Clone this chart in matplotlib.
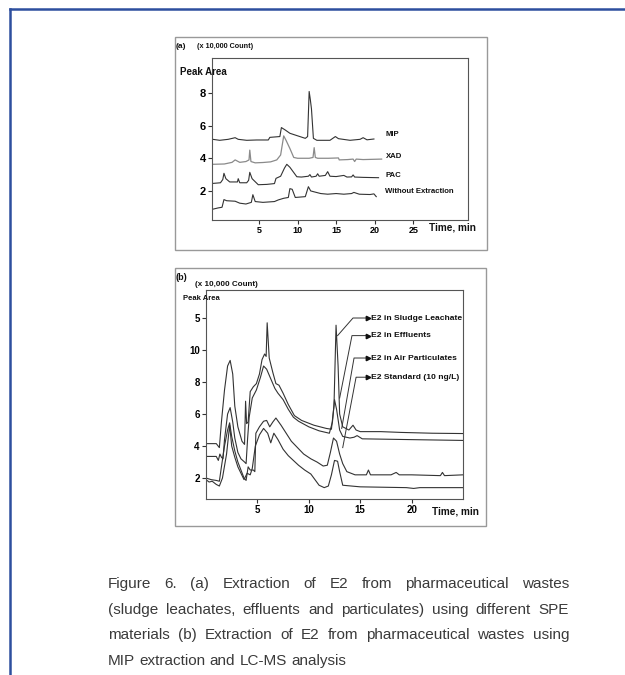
import numpy as np
import matplotlib.pyplot as plt
from matplotlib.patches import Rectangle
from matplotlib.lines import Line2D

W, H = 625, 675

# ---- panel (a): chromatograms with different SPE materials ----
mip_t = [-1.0, -0.1, 1.0, 1.9, 2.3, 3.4, 4.7, 6.2, 6.4, 7.7, 7.9, 8.4, 9.0, 9.9, 11.0,
         11.3, 11.5, 11.65, 11.8, 12.05, 12.5, 14.2, 14.9, 15.3, 16.8, 18.1, 18.5, 19.0, 19.9]
mip_y = [5.16, 5.10, 5.16, 5.26, 5.16, 5.10, 5.12, 5.12, 5.28, 5.33, 5.88, 5.73, 5.53, 5.39, 5.22,
         5.33, 8.09, 7.6, 7.02, 5.22, 5.10, 5.10, 5.33, 5.2, 5.10, 5.16, 5.26, 5.13, 5.18]

xad_t = [-1.0, 0.5, 1.5, 1.9, 2.5, 3.3, 3.7, 3.8, 3.95, 4.5, 5.5, 6.5, 7.3, 7.8, 8.2, 8.5, 9.0,
         9.5, 10.0, 11.5, 12.0, 12.15, 12.3, 12.6, 14.0, 15.3, 15.4, 16.5, 17.2, 17.4, 17.6, 18.5, 20.9]
xad_y = [3.63, 3.65, 3.75, 3.9, 3.75, 3.8, 3.9, 4.5, 3.8, 3.72, 3.74, 3.78, 3.9, 4.2, 5.37, 5.1, 4.6,
         4.05, 4.0, 4.0, 4.05, 4.65, 4.05, 4.0, 4.0, 4.02, 3.9, 3.92, 3.95, 3.8, 3.95, 3.92, 3.95]

pac_t = [-1.0, 0.0, 0.3, 0.45, 0.7, 1.2, 2.2, 2.3, 2.5, 3.4, 3.65, 3.8, 4.1, 4.9, 6.0, 7.0, 7.2,
         7.8, 8.3, 8.6, 9.0, 9.9, 10.5, 11.4, 11.6, 11.8, 12.4, 12.6, 12.8, 13.6, 13.9, 14.2,
         15.0, 16.0, 16.4, 17.0, 17.2, 17.4, 18.5, 20.5]
pac_y = [2.46, 2.5, 2.7, 3.08, 2.75, 2.55, 2.55, 2.75, 2.5, 2.5, 2.65, 3.14, 2.75, 2.38, 2.4, 2.45, 2.77,
         2.9, 3.4, 3.63, 3.45, 2.87, 2.85, 2.9, 3.0, 2.85, 2.9, 3.05, 2.9, 2.95, 3.18, 2.9,
         2.88, 2.95, 2.85, 2.86, 2.98, 2.85, 2.83, 2.81]

wo_t = [-1.1, -0.3, 0.2, 0.45, 0.8, 1.9, 2.5, 3.3, 4.0, 4.2, 4.5, 5.5, 7.0, 7.5, 8.2, 8.8, 9.0,
        9.3, 9.7, 11.0, 11.4, 11.7, 12.1, 13.0, 13.9, 15.0, 16.0, 17.0, 17.3, 18.0, 19.4, 19.9, 20.2]
wo_y = [0.87, 0.96, 1.0, 1.47, 1.4, 1.37, 1.25, 1.2, 1.3, 1.77, 1.35, 1.3, 1.35, 1.45, 1.55, 1.6, 2.14,
        2.1, 1.6, 1.65, 2.26, 2.0, 1.95, 1.84, 1.8, 1.84, 1.8, 1.84, 1.91, 1.8, 1.78, 1.82, 1.65]

a_names = ["MIP", "XAD", "PAC", "Without Extraction"]
a_label_y = [5.47, 4.12, 2.96, 1.98]

# ---- panel (b): E2 by MIP extraction and LC-MS ----
sl_t = [0, 1.0, 1.3, 1.5, 1.8, 2.1, 2.35, 2.6, 2.8, 3.1, 3.5, 3.75, 3.85, 3.95, 4.1, 4.3, 4.6, 4.9,
        5.2, 5.45, 5.7, 5.85, 5.95, 6.15, 6.5, 6.8, 7.1, 7.5, 8.0, 8.6, 9.3, 10.5, 11.7, 12.2, 12.45,
        12.65, 12.85, 13.0, 13.3, 13.9, 14.3, 14.6, 15.0, 17.0, 19.0, 22.0, 25.0]
sl_y = [4.15, 4.15, 3.9, 5.5, 7.5, 9.0, 9.35, 8.5, 6.5, 5.2, 4.3, 4.1, 6.8, 5.4, 5.5, 7.4, 7.7, 7.9,
        8.5, 9.4, 9.75, 9.6, 11.7, 9.5, 8.6, 7.9, 7.8, 7.3, 6.6, 5.9, 5.6, 5.3, 5.1, 5.05, 6.5,
        11.55, 9.0, 6.0, 5.2, 5.0, 5.3, 5.0, 4.9, 4.9, 4.85, 4.8, 4.78]

ef_t = [0, 1.0, 1.2, 1.35, 1.5, 1.65, 1.8, 2.1, 2.35, 2.6, 2.8, 3.1, 3.4, 3.75, 3.9, 4.05, 4.2, 4.5,
        4.9, 5.3, 5.6, 5.9, 6.3, 6.7, 7.0, 7.5, 8.0, 8.5, 9.0, 10.0, 11.0, 12.0, 12.3, 12.5, 12.7,
        13.0, 13.3, 14.0, 14.4, 14.7, 15.2, 20.0, 25.0]
ef_y = [3.35, 3.35, 3.1, 3.5, 3.3, 3.2, 4.4, 6.0, 6.4, 5.5, 4.5, 3.6, 3.2, 3.0, 2.9, 4.5, 5.8, 7.0,
        7.5, 8.3, 9.0, 8.8, 8.2, 7.6, 7.3, 6.9, 6.3, 5.8, 5.55, 5.2, 4.95, 4.8, 5.5, 6.9, 6.3,
        5.0, 4.6, 4.5, 4.55, 4.65, 4.45, 4.4, 4.35]

ap_t = [0, 0.5, 1.0, 1.3, 1.5, 1.8, 2.1, 2.3, 2.5, 2.8, 3.1, 3.4, 3.7, 3.9, 4.1, 4.3, 4.6, 4.75,
        4.85, 5.2, 5.6, 5.9, 6.2, 6.5, 6.8, 7.3, 7.8, 8.3, 8.9, 9.5, 10.2, 10.8, 11.4, 11.8, 12.1,
        12.4, 12.7, 13.0, 13.3, 13.7, 14.5, 15.6, 15.8, 16.0, 18.0, 18.5, 18.8, 20.0, 22.8, 23.0,
        23.2, 25.0]
ap_y = [2.0, 1.9, 1.85, 1.8, 2.7, 4.0, 5.0, 5.45, 4.6, 3.7, 3.0, 2.5, 2.0, 1.85, 2.7, 2.5, 2.5, 2.4,
        4.8, 5.2, 5.55, 5.6, 5.2, 5.5, 5.75, 5.3, 4.8, 4.3, 3.9, 3.5, 3.2, 3.0, 2.75, 2.8, 3.6,
        4.5, 4.3, 3.5, 2.9, 2.4, 2.2, 2.2, 2.5, 2.2, 2.2, 2.35, 2.2, 2.2, 2.15, 2.35,
        2.15, 2.2]

st_t = [0, 0.3, 0.6, 1.0, 1.3, 1.6, 2.0, 2.3, 2.5, 2.8, 3.1, 3.4, 3.7, 4.0, 4.3, 4.5, 4.8, 5.2,
        5.6, 6.0, 6.3, 6.6, 7.0, 7.5, 8.0, 8.5, 9.0, 9.6, 10.2, 10.6, 11.0, 11.5, 11.9, 12.2, 12.5,
        12.8, 13.0, 13.3, 15.0, 19.5, 20.2, 20.8, 25.0]
st_y = [1.9, 1.75, 1.8, 1.6, 1.5, 2.0, 3.5, 5.3, 4.0, 3.3, 2.7, 2.3, 1.9, 2.3, 2.2, 2.6, 4.0, 4.7,
        5.1, 4.8, 4.2, 4.8, 4.4, 3.8, 3.4, 3.1, 2.8, 2.5, 2.25, 1.9, 1.55, 1.4, 1.5, 2.2, 3.1,
        3.05, 2.4, 1.55, 1.45, 1.4, 1.35, 1.4, 1.4]

b_names = ["E2 in Sludge Leachate", "E2 in Effluents", "E2 in Air Particulates",
           "E2 Standard (10 ng/L)"]
b_label_y = [12.0, 10.9, 9.5, 8.3]
b_corner_x = [14.3, 14.2, 14.4, 14.6]
b_end = [(12.8, 10.9), (13.0, 7.0), (13.2, 5.1), (13.3, 3.9)]

b_yticks = [2, 4, 6, 8, 10, 12]
b_yticklabels = ["2", "4", "6", "8", "10", "5"]

caption = ["Figure 6. (a) Extraction of E2 from pharmaceutical wastes",
           "(sludge leachates, effluents and particulates) using different SPE",
           "materials (b) Extraction of E2 from pharmaceutical wastes using",
           "MIP extraction and LC-MS analysis"]

plt.rcParams['font.family'] = ['Liberation Sans', 'DejaVu Sans']

fig = plt.figure(figsize=(W / 100, H / 100), dpi=100)


def fx(px):
    return px / W


def fy(py):
    return 1 - py / H


def ftext(px, py, s, size, **kw):
    kw.setdefault('ha', 'left')
    kw.setdefault('va', 'center')
    return fig.text(fx(px), fy(py), s, fontsize=size, fontweight='bold', color='#111', **kw)


def box(x0, y0, x1, y1, color='#999', lw=1.0):
    fig.add_artist(Rectangle((fx(x0), fy(y1)), fx(x1) - fx(x0), fy(y0) - fy(y1),
                             transform=fig.transFigure, fill=False, ec=color, lw=lw))


# blue page frame
fig.add_artist(Line2D([fx(10), fx(625)], [fy(9), fy(9)], color='#2d4f9e', lw=1.8))
fig.add_artist(Line2D([fx(10), fx(10)], [fy(9), fy(675)], color='#2d4f9e', lw=1.8))

# panel boxes
box(175, 37, 487, 250)
box(175, 268, 486, 526)


def style(ax):
    for s in ax.spines.values():
        s.set_color('#555')
        s.set_linewidth(0.8)
    ax.tick_params(direction='out', length=3, width=0.8, color='#333', pad=1.5)
    for lab in ax.get_xticklabels() + ax.get_yticklabels():
        lab.set_fontweight('bold')


# ---- (a) ----
ax1 = fig.add_axes([fx(212), fy(220), fx(468) - fx(212), fy(58) - fy(220)])
ax1.plot(mip_t, mip_y, color='#333', lw=0.8)
ax1.plot(xad_t, xad_y, color='#8a8a8a', lw=0.9)
ax1.plot(pac_t, pac_y, color='#333', lw=0.8)
ax1.plot(wo_t, wo_y, color='#333', lw=0.8)
for name, yy in zip(a_names, a_label_y):
    ax1.text(21.4, yy, name, fontsize=5.6, fontweight='bold', color='#111', va='center')
ax1.set_xlim(-1.1, 32.1)
ax1.set_ylim(0.22, 10.14)
ax1.set_xticks([5, 10, 15, 20, 25])
ax1.set_yticks([2, 4, 6, 8])
ax1.tick_params(axis='x', labelsize=6.5)
ax1.tick_params(axis='y', labelsize=8)
style(ax1)

ftext(176, 46, "(a)", 6)
ftext(197, 47, "(x 10,000 Count)", 5.2)
ftext(180, 72, "Peak Area", 7)
ftext(429, 228, "Time, min", 7.2)

# ---- (b) ----
ax2 = fig.add_axes([fx(206), fy(499), fx(463) - fx(206), fy(290) - fy(499)])
for t, y in [(sl_t, sl_y), (ef_t, ef_y), (ap_t, ap_y), (st_t, st_y)]:
    ax2.plot(t, y, color='#333', lw=0.8)
for name, ly, cx, (ex, ey) in zip(b_names, b_label_y, b_corner_x, b_end):
    ax2.plot([ex, cx, 15.8], [ey, ly, ly], color='#333', lw=0.7)
    ax2.plot([15.8], [ly], marker='>', ms=3.2, color='#111', mec='#111')
    ax2.text(16.05, ly, name, fontsize=6.1, fontweight='bold', color='#111', va='center')
ax2.set_xlim(0, 25)
ax2.set_ylim(0.69, 13.75)
ax2.set_xticks([5, 10, 15, 20])
ax2.set_yticks(b_yticks)
ax2.set_yticklabels(b_yticklabels)
ax2.tick_params(axis='both', labelsize=7)
style(ax2)

ftext(176, 277, "(b)", 6.5)
ftext(195, 284, "(x 10,000 Count)", 5.8)
ftext(183, 298, "Peak Area", 5.5)
ftext(432, 511, "Time, min", 7.2)

# ---- caption, justified ----
renderer = fig.canvas.get_renderer()
left, right = 108, 569
baselines = [588, 614, 639, 665]
for i, (line, by) in enumerate(zip(caption, baselines)):
    words = line.split()
    texts = [fig.text(0, fy(by), w, fontsize=11, color='#3a3a3a', va='baseline') for w in words]
    widths = [t.get_window_extent(renderer=renderer).width for t in texts]
    if i < len(caption) - 1:
        gap = (right - left - sum(widths)) / (len(words) - 1)
    else:
        gap = 4.2
    x = left
    for t, w in zip(texts, widths):
        t.set_x(fx(x))
        x += w + gap

fig.savefig('out.png', dpi=100)
